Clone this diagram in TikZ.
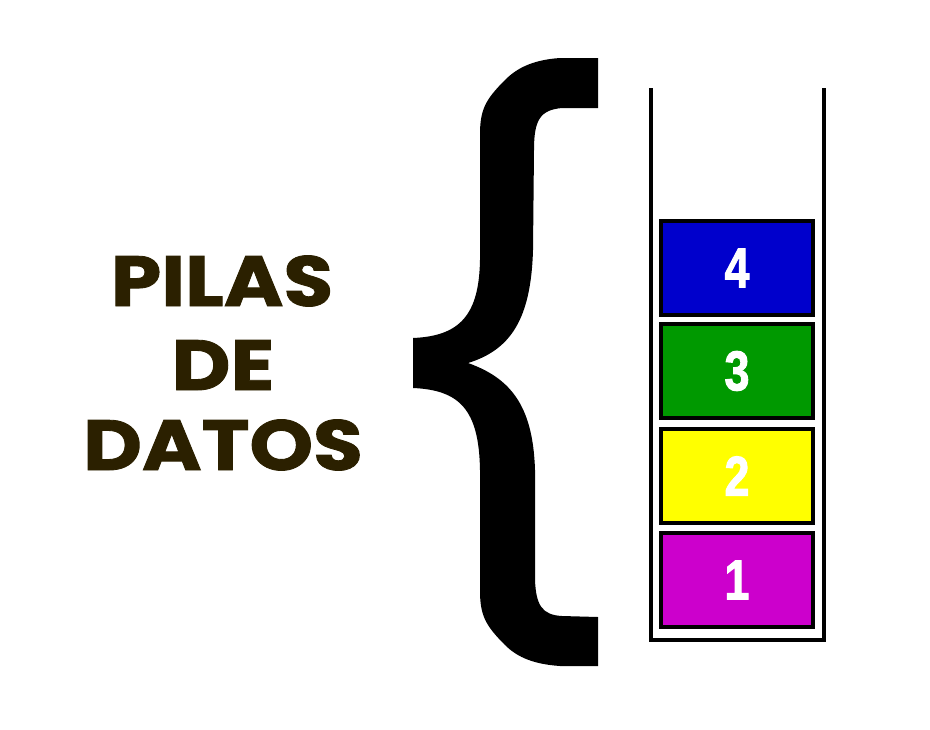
\documentclass[tikz,border=0pt]{standalone}
\usepackage{fontspec}
\setmainfont{Poppins}
\newfontfamily\titlefont[BoldFeatures={FakeBold=1.2}]{Poppins}
\newfontfamily\numfont[BoldFeatures={FakeBold=2}]{Liberation Sans}
\definecolor{txtbrown}{HTML}{2B2000}
\definecolor{cblue}{HTML}{0000CC}
\definecolor{cgreen}{HTML}{009900}
\definecolor{cyellow}{HTML}{FFFF00}
\definecolor{cmagenta}{HTML}{CC00CC}
\tikzset{
  title/.style={font=\titlefont\fontsize{71}{71}\selectfont\bfseries, text=txtbrown, anchor=base, inner sep=0pt},
  item/.style={draw=black, line width=4pt, minimum width=152pt, minimum height=94pt, inner sep=0pt, anchor=north west},
  num/.style={font=\numfont\fontsize{56}{56}\selectfont\bfseries, text=white},
  wall/.style={line width=4pt, draw=black}
}
\begin{document}
\begin{tikzpicture}[x=1pt,y=-1pt]
\useasboundingbox (0,0) rectangle (930,729);
% title
\node[title] (t1) at (222,306) {\scalebox{1.14}[1]{PILAS}};
\node[title] (t2) at (223,390) {\scalebox{1.14}[1]{DE}};
\node[title] (t3) at (223,470) {\scalebox{1.14}[1]{DATOS}};
% brace
\fill[black] (598,58) -- (598,108) -- (562,108)
  .. controls (540,110) and (534,120) .. (534,150)
  -- (533,250)
  .. controls (531,320) and (510,350) .. (468,363)
  .. controls (510,378) and (533,405) .. (535,470)
  -- (535,580)
  .. controls (536,605) and (542,615) .. (562,616)
  -- (598,617) -- (598,666) -- (560,666)
  .. controls (530,664) and (515,655) .. (505,645)
  .. controls (485,625) and (480,615) .. (480,590)
  -- (480,470)
  .. controls (479,410) and (460,390) .. (413,388)
  -- (413,338)
  .. controls (460,336) and (479,315) .. (480,260)
  -- (480,135)
  .. controls (480,110) and (485,100) .. (505,80)
  .. controls (515,70) and (530,60) .. (560,58)
  -- cycle;
% container
\coordinate (tl) at (651,88);
\coordinate (bl) at (651,640);
\coordinate (br) at (824,640);
\coordinate (tr) at (824,88);
\draw[wall] (tl) -- (bl) -- (br) -- (tr);
% items
\node[item, fill=cblue] (b4) at (659,219) {};
\node[item, fill=cgreen] (b3) at (659,322) {};
\node[item, fill=cyellow] (b2) at (659,427) {};
\node[item, fill=cmagenta] (b1) at (659,531) {};
\node[num] (n4) at (b4.center) {\scalebox{0.8}[1]{4}};
\node[num] (n3) at (b3.center) {\scalebox{0.8}[1]{3}};
\node[num] (n2) at (b2.center) {\scalebox{0.8}[1]{2}};
\node[num] (n1) at (b1.center) {\scalebox{0.8}[1]{1}};
\end{tikzpicture}
\end{document}
